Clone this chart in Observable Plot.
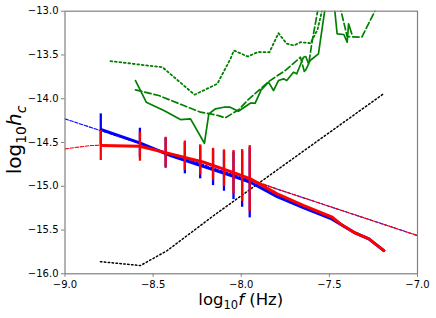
<!DOCTYPE html>
<html><head><meta charset="utf-8">
<script src="https://cdn.jsdelivr.net/npm/d3@7"></script>
<script src="https://cdn.jsdelivr.net/npm/@observablehq/plot@0.6"></script>
<style>body{margin:0;background:#fff}</style>
</head><body><div id="chart"></div>
<script>
// frequency bins (log10 Hz)
const binFreq = [-8.797, -8.575, -8.429, -8.320, -8.233, -8.160, -8.098, -8.044, -7.995, -7.952];
// red error bars
const redLo = [-14.706, -14.714, -14.783, -14.821, -14.870, -14.935, -15.003, -15.087, -15.175, -15.289];
const redHi = [-14.363, -14.383, -14.440, -14.483, -14.527, -14.566, -14.584, -14.592, -14.581, -14.535];
// blue error bars
const blueLo = [-14.530, -14.670, -14.794, -14.858, -14.915, -14.992, -15.057, -15.152, -15.240, -15.361];
const blueHi = [-14.173, -14.337, -14.450, -14.500, -14.540, -14.580, -14.600, -14.610, -14.600, -14.560];

// solid spectra
const blueSolidX = [-8.793, -8.576, -8.401, -8.2125, -8.023, -7.948, -7.796, -7.645, -7.494, -7.361, -7.276, -7.191];
const blueSolidY = [-14.352, -14.504, -14.649, -14.775, -14.901, -14.954, -15.118, -15.247, -15.366, -15.526, -15.601, -15.735];
const redSolidX = [-8.793, -8.576, -8.401, -8.2125, -8.023, -7.948, -7.796, -7.645, -7.484, -7.437, -7.361, -7.276, -7.191];
const redSolidY = [-14.535, -14.543, -14.630, -14.726, -14.858, -14.915, -15.087, -15.221, -15.354, -15.430, -15.526, -15.601, -15.735];

// dashed models
const blueDashX = [-9.0, -7.0];
const blueDashY = [-14.23, -15.563];
const redDashX = [-9.0, -8.855, -8.793, -8.576, -8.401, -8.2125, -8.023, -7.8, -7.0];
const redDashY = [-14.573, -14.535, -14.530, -14.545, -14.625, -14.720, -14.860, -15.030, -15.563];

// black dotted sensitivity
const blackDotX = [-8.799, -8.572, -8.420, -8.156, -7.722, -7.193];
const blackDotY = [-15.861, -15.906, -15.735, -15.334, -14.706, -13.944];

// green curves
const greenDotX = [-8.742, -8.447, -8.265, -8.136, -8.061, -8.042, -7.963, -7.906, -7.840, -7.789, -7.743, -7.701, -7.664, -7.607, -7.567, -7.528];
const greenDotY = [-13.571, -13.640, -13.954, -13.830, -13.544, -13.449, -13.518, -13.466, -13.469, -13.251, -13.369, -13.392, -13.354, -13.366, -13.209, -12.878];
const greenSolidX = [-8.600, -8.539, -8.439, -8.345, -8.288, -8.209, -8.184, -8.146, -8.099, -8.063, -8.016, -7.949, -7.921, -7.887, -7.845, -7.817, -7.789, -7.760, -7.742, -7.704, -7.685, -7.647, -7.634, -7.618, -7.609, -7.562, -7.518, -7.475, -7.456, -7.418, -7.399, -7.391, -7.373];
const greenSolidY = [-13.792, -14.040, -14.135, -14.238, -14.230, -14.509, -14.173, -14.115, -14.097, -14.097, -14.143, -14.051, -14.051, -13.898, -13.811, -13.906, -13.792, -13.773, -13.792, -13.697, -13.715, -13.526, -13.518, -13.601, -13.563, -13.487, -12.878, -12.878, -13.258, -13.266, -13.354, -13.144, -13.258];
const greenDashX = [-8.600, -8.468, -8.326, -8.231, -8.174, -8.129, -8.091, -8.015, -7.966, -7.844, -7.751, -7.664, -7.641, -7.617, -7.597, -7.566, -7.556, -7.448, -7.399, -7.316, -7.240, -7.233];
const greenDashY = [-13.898, -13.963, -14.078, -14.154, -14.173, -14.193, -14.218, -14.127, -14.021, -13.803, -13.678, -13.526, -13.697, -13.601, -13.335, -12.992, -12.878, -12.878, -13.290, -13.297, -12.992, -12.878];

const xTicks = [-9.0, -8.5, -8.0, -7.5, -7.0];
const yTicks = [-16.0, -15.5, -15.0, -14.5, -14.0, -13.5, -13.0];

const pts = (xs, ys) => xs.map((x, i) => ({x, y: ys[i]}));
const bars = (lo, hi) => binFreq.map((f, i) => ({f, lo: lo[i], hi: hi[i]}));
const fmt = d => d.toFixed(1).replace("-", "\u2212");

const chart = Plot.plot({
  width: 436, height: 318,
  marginLeft: 64.5, marginRight: 19, marginTop: 10.7, marginBottom: 44.7,
  style: {fontFamily: "DejaVu Sans", fontSize: "10px", background: "#fff", color: "black"},
  x: {domain: [-9, -7]},
  y: {domain: [-16, -13]},
  marks: [
    Plot.line(pts(greenDotX, greenDotY), {x: "x", y: "y", stroke: "green", strokeWidth: 1.8, strokeDasharray: "1.8,2.7", clip: true}),
    Plot.line(pts(greenDashX, greenDashY), {x: "x", y: "y", stroke: "green", strokeWidth: 1.7, strokeDasharray: "6.5,3", clip: true}),
    Plot.line(pts(greenSolidX, greenSolidY), {x: "x", y: "y", stroke: "green", strokeWidth: 1.7, clip: true}),
    Plot.line(pts(blackDotX, blackDotY), {x: "x", y: "y", stroke: "black", strokeWidth: 1.5, strokeDasharray: "1.5,2.4", clip: true}),
    Plot.line(pts(blueDashX, blueDashY), {x: "x", y: "y", stroke: "blue", strokeWidth: 1.1, strokeDasharray: "3.5,1.6", clip: true}),
    Plot.line(pts(redDashX, redDashY), {x: "x", y: "y", stroke: "red", strokeWidth: 1.1, strokeDasharray: "3.5,1.6", clip: true}),
    Plot.ruleX(bars(blueLo, blueHi), {x: "f", y1: "lo", y2: "hi", stroke: "blue", strokeWidth: 2.3}),
    Plot.line(pts(blueSolidX, blueSolidY), {x: "x", y: "y", stroke: "blue", strokeWidth: 3}),
    Plot.ruleX(bars(redLo, redHi), {x: "f", y1: "lo", y2: "hi", stroke: "red", strokeWidth: 2.3}),
    Plot.line(pts(redSolidX, redSolidY), {x: "x", y: "y", stroke: "red", strokeWidth: 3}),
    Plot.frame({stroke: "#808080", strokeWidth: 1.2}),
    Plot.axisX({ticks: xTicks, tickFormat: fmt, tickSize: 3.5, tickPadding: 3.5, stroke: "#808080", fill: "black", label: null}),
    Plot.axisY({ticks: yTicks, tickFormat: fmt, tickSize: 3.5, tickPadding: 3, stroke: "#808080", fill: "black", label: null})
  ]
});
document.getElementById("chart").appendChild(chart);

const svg = d3.select(chart);
// x label
const xl = svg.append("text").attr("x", 240.75).attr("y", 305).attr("text-anchor", "middle")
  .style("font-family", "DejaVu Sans").style("font-size", "16.5px").attr("fill", "black");
xl.append("tspan").text("log");
xl.append("tspan").attr("dy", 3.5).style("font-size", "11.5px").text("10");
xl.append("tspan").attr("dy", -3.5).style("font-style", "italic").text("f");
xl.append("tspan").text(" (Hz)");
// y label
const yl = svg.append("text").attr("transform", "translate(21,140) rotate(-90)").attr("text-anchor", "middle")
  .style("font-family", "DejaVu Sans").style("font-size", "20px").attr("fill", "black");
yl.append("tspan").text("log");
yl.append("tspan").attr("dy", 4.5).style("font-size", "14px").text("10");
yl.append("tspan").attr("dy", -4.5).style("font-style", "italic").text("h");
yl.append("tspan").attr("dy", 4.5).style("font-size", "14px").style("font-style", "italic").text("c");
</script>
</body></html>
